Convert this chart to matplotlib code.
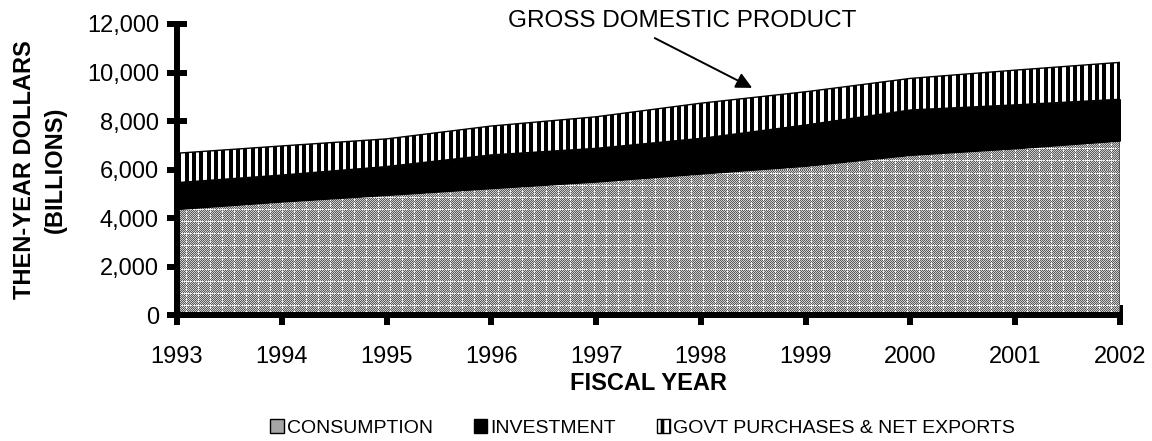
import matplotlib
matplotlib.use("Agg")
import matplotlib.pyplot as plt
import matplotlib.patches as mpatches
from matplotlib.ticker import FuncFormatter
import numpy as np



# Data (billions of then-year dollars)

years        = [1993, 1994, 1995, 1996, 1997, 1998, 1999, 2000, 2001, 2002]
consumption  = [4380, 4690, 4960, 5240, 5510, 5840, 6160, 6610, 6880, 7200]
investment   = [1090, 1090, 1170, 1370, 1370, 1450, 1680, 1850, 1790, 1700]
govt_net_exp = [1210, 1200, 1140, 1190, 1300, 1450, 1370, 1300, 1430, 1520]

series_labels = ["CONSUMPTION", "INVESTMENT", "GOVT PURCHASES & NET EXPORTS"]
y_ticks = [0, 2000, 4000, 6000, 8000, 10000, 12000]


# Cumulative tops of each layer

top_cons = consumption
top_inv  = [c + i for c, i in zip(consumption, investment)]
top_gdp  = [t + g for t, g in zip(top_inv, govt_net_exp)]


plt.rcParams['font.family'] = ['Liberation Sans', 'DejaVu Sans']
plt.rcParams['hatch.linewidth'] = 2.6

fig = plt.figure(figsize=(11.52, 4.41), dpi=100)
ax = fig.add_axes([0.1536, 0.2846, 0.8186, 0.661])

# Layers

f1 = ax.fill_between(years, 0, top_cons, facecolor="none", edgecolor="#303030",
                     linewidth=0.8, zorder=3)
f2 = ax.fill_between(years, top_cons, top_inv, facecolor="black", edgecolor="black",
                     linewidth=0.8, zorder=3)
f3 = ax.fill_between(years, top_inv, top_gdp, facecolor="none", edgecolor="black",
                     linewidth=1.0, zorder=3)

# Textures (pixel patterns), clipped to each layer's area

W, H = 943, 291
jj, ii = np.meshgrid(np.arange(W), np.arange(H))
ext = (years[0], years[-1], 0, 12000)

# grey dotted texture for consumption
tex = np.where((ii + jj) % 2 == 0, 0.36, 0.80)
tex[(ii % 12 == 5) & (jj % 3 != 0)] = 0.97
tex[(jj % 12 == 9) & (ii % 3 != 0)] = 0.97
img1 = ax.imshow(tex, cmap="gray", vmin=0, vmax=1, extent=ext,
                 aspect="auto", interpolation="nearest", zorder=2)
img1.set_clip_path(f1.get_paths()[0], transform=ax.transData)

# vertical black/white stripes for govt purchases
stripes = np.where((jj % 22) % 7.33 < 3.8, 0.0, 1.0)
img3 = ax.imshow(stripes, cmap="gray", vmin=0, vmax=1, extent=ext,
                 aspect="auto", interpolation="nearest", zorder=2)
img3.set_clip_path(f3.get_paths()[0], transform=ax.transData)

# Axes styling

ax.set_xlim(years[0], years[-1])
ax.set_ylim(0, 12000)
ax.set_xticks(years)
ax.set_yticks(y_ticks)
ax.yaxis.set_major_formatter(FuncFormatter(lambda v, p: "{:,.0f}".format(v)))

for side in ("top", "right"):
    ax.spines[side].set_visible(False)
for side in ("left", "bottom"):
    ax.spines[side].set_linewidth(4.3)
    ax.spines[side].set_capstyle("round")
    ax.spines[side].set_zorder(4)

ax.tick_params(axis="both", direction="inout", length=14, width=4.3, labelsize=17)
ax.tick_params(axis="x", pad=15)
ax.tick_params(axis="y", pad=6)

ax.set_xlabel("FISCAL YEAR", fontsize=17, fontweight="bold", labelpad=3)
ax.set_ylabel("THEN-YEAR DOLLARS\n(BILLIONS)", fontsize=17, fontweight="bold",
              labelpad=14, linespacing=1.45)

# Annotation

ax.text(1997.82, 12120, "GROSS DOMESTIC PRODUCT", fontsize=17.5, ha="center", va="center",
        clip_on=False)
ax.annotate("", xy=(1998.49, 9370), xytext=(1997.56, 11420), annotation_clip=False,
            arrowprops=dict(arrowstyle="-|>", color="black", lw=1.4,
                            mutation_scale=24, shrinkA=0, shrinkB=0))

# Legend

handles = [
    mpatches.Patch(facecolor="#a6a6a6", edgecolor="black", label=series_labels[0]),
    mpatches.Patch(facecolor="black", edgecolor="black", label=series_labels[1]),
    mpatches.Patch(facecolor="white", edgecolor="black", hatch="||", label=series_labels[2]),
]
fig.legend(handles=handles, loc="center", bbox_to_anchor=(0.558, 0.03), ncol=3,
           frameon=False, fontsize=14, handlelength=0.7, handleheight=0.7,
           handletextpad=0.15, columnspacing=2.1)

fig.savefig("out.png", dpi=100)
